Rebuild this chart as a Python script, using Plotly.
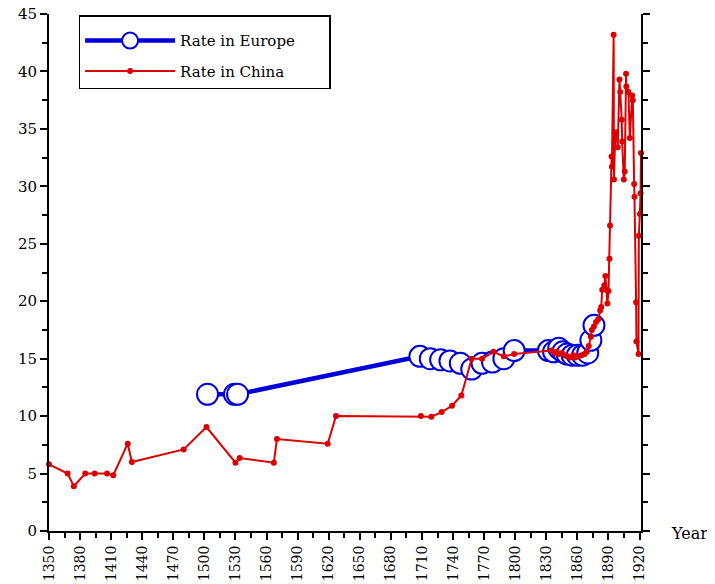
import plotly.graph_objects as go

# ---- data ----
europe_years = [1503, 1529, 1532, 1708, 1718, 1728, 1737, 1747, 1758, 1768, 1778, 1789, 1799,
                1832, 1837, 1842, 1846, 1850, 1855, 1860, 1865, 1870, 1873, 1876]
europe_rate = [11.9, 11.9, 11.9, 15.2, 15.0, 14.9, 14.8, 14.6, 14.1, 14.6, 14.7, 15.0, 15.7,
               15.7, 15.6, 15.9, 15.6, 15.4, 15.3, 15.3, 15.3, 15.5, 16.6, 17.9]

china_years = [1350, 1368, 1374, 1385, 1394, 1406, 1412, 1426, 1430, 1480, 1502, 1530, 1534,
               1567, 1570, 1619, 1627, 1709, 1719, 1729, 1739, 1748, 1758, 1768, 1779, 1789,
               1799, 1835, 1838, 1840, 1842, 1845, 1848, 1850, 1853, 1856, 1858, 1861, 1864,
               1867, 1869, 1871, 1873, 1874, 1876, 1878, 1880, 1882, 1883, 1884, 1886, 1887,
               1888, 1889, 1890, 1891, 1891.5, 1893, 1893.3, 1895, 1895.3, 1896.5, 1897.4,
               1899, 1900.6, 1901.3, 1902.8, 1903.2, 1904.8, 1905.7, 1907, 1907.3, 1909.3,
               1910.6, 1912.9, 1913.5, 1914.8, 1915.1, 1916.7, 1917, 1919, 1919.3, 1920.3,
               1921, 1921.4, 1921.6]
china_rate = [5.8, 5.0, 3.9, 5.0, 5.0, 5.0, 4.85, 7.6, 6.0, 7.1, 9.05, 5.95, 6.35,
              5.95, 8.0, 7.6, 10.0, 10.0, 9.95, 10.35, 10.9, 11.8, 15.0, 15.0, 15.6, 15.2,
              15.4, 15.7, 15.5, 15.6, 15.4, 15.5, 15.3, 15.2, 15.1, 15.3, 15.1, 15.2, 15.3,
              15.4, 15.6, 16.1, 16.9, 17.5, 17.8, 18.2, 18.4, 19.2, 19.5, 21.0, 21.4, 22.2,
              21.0, 19.8, 20.9, 23.7, 26.6, 32.6, 31.7, 43.2, 30.6, 34.4, 34.7,
              33.4, 39.3, 38.2, 35.8, 33.9, 30.6, 31.3, 39.8, 38.7, 38.2,
              34.2, 37.9, 37.5, 30.2, 29.1, 19.9, 16.5, 15.4, 25.7, 27.6,
              29.4, 32.9, 27.8]

x_ticks = list(range(1350, 1921, 30))
y_ticks = list(range(0, 46, 5))

FONT = "DejaVu Serif"

fig = go.Figure()
fig.add_trace(go.Scatter(
    x=europe_years, y=europe_rate, mode="lines+markers",
    name="Rate in Europe" + "\u00a0" * 6,
    line=dict(color="#0000dd", width=4.5),
    marker=dict(symbol="circle", size=21, color="white",
                line=dict(color="#0000dd", width=2)),
    cliponaxis=False, legendgroup="a",
))
fig.add_trace(go.Scatter(
    x=china_years, y=china_rate, mode="lines+markers",
    name="Rate in China",
    line=dict(color="#dd0000", width=2),
    marker=dict(symbol="circle", size=6, color="#dd0000"),
    cliponaxis=False, legendgroup="b",
))

axis_common = dict(
    showgrid=False, zeroline=False, showline=True, linecolor="black", linewidth=2,
    ticks="outside", ticklen=7, tickwidth=2, tickcolor="black", automargin=False,
    ticklabeloverflow="allow",
)

fig.update_xaxes(
    range=[1350, 1921.4], tickvals=x_ticks, tickangle=-90,
    tickfont=dict(family=FONT, size=14, color="black"),
    minor=dict(dtick=15, tick0=1350, ticks="outside", ticklen=5, tickwidth=2, tickcolor="black"),
    **axis_common,
)
fig.update_yaxes(
    range=[0, 45], tickvals=y_ticks, mirror="ticks",
    tickfont=dict(family=FONT, size=15, color="black"),
    minor=dict(dtick=2.5, tick0=0, ticks="outside", ticklen=5, tickwidth=2, tickcolor="black"),
    **axis_common,
)

fig.add_annotation(
    text="Year", xref="paper", yref="paper", x=1.0, y=0, xanchor="left", yanchor="middle",
    xshift=28, yshift=-2, showarrow=False, font=dict(family=FONT, size=16, color="black"),
)

# page body has an 8px margin, so the figure is shifted by 8px
fig.update_layout(
    width=707, height=576,
    margin=dict(l=41, r=74, t=6, b=53),
    plot_bgcolor="white", paper_bgcolor="white",
    font=dict(family=FONT, size=15, color="black"),
    legend=dict(
        x=0.05, y=0.998, xanchor="left", yanchor="top",
        bordercolor="black", borderwidth=1.5, bgcolor="white",
        font=dict(family=FONT, size=15, color="black"),
        title=dict(text="\u00a0", font=dict(size=6)),
        itemwidth=90, tracegroupgap=8,
    ),
)

fig.write_html("out.html")
